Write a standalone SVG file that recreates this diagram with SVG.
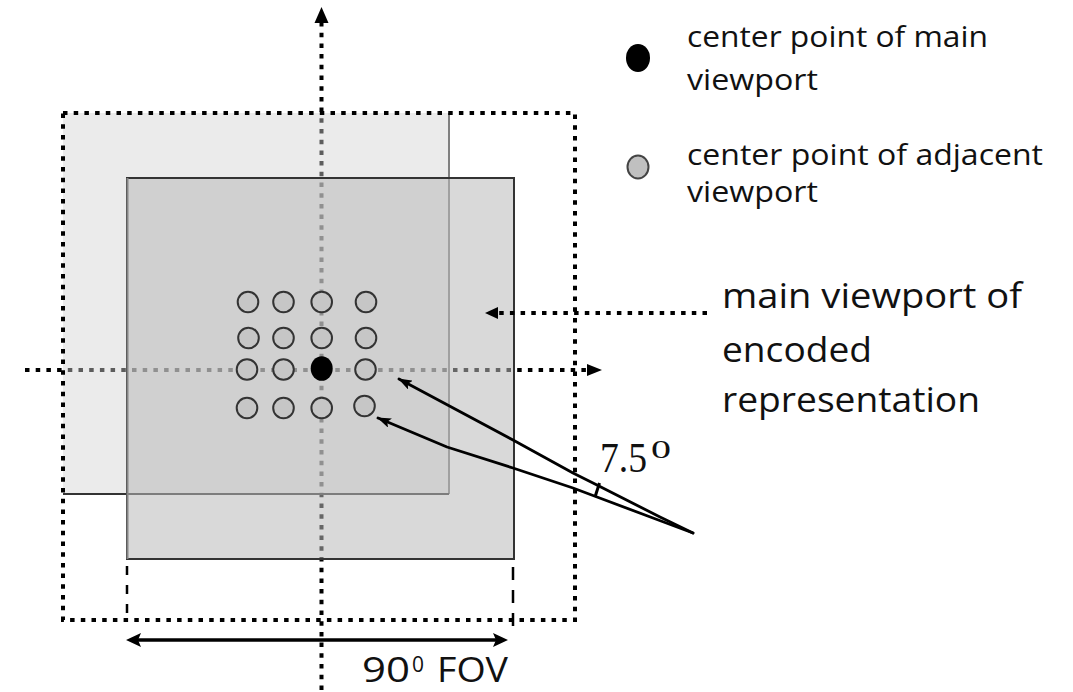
<svg xmlns="http://www.w3.org/2000/svg" width="1073" height="692" viewBox="0 0 1073 692">
<style>
.dot{fill:none;stroke:#000;stroke-width:4;stroke-dasharray:4.5 6.2}
.adj{fill:#c6c6c6;stroke:#333;stroke-width:2}
.txt{font-family:"Open Sans","Liberation Sans",sans-serif;fill:#111}
.srf{font-family:"Liberation Serif",serif;fill:#111}
.ptr{fill:none;stroke:#000;stroke-width:2.8;stroke-linejoin:round;stroke-linecap:round}
.head{fill:#000}
</style>
<defs>
<marker id="ptrhead" viewBox="0 0 14 10" refX="13" refY="5" markerWidth="14" markerHeight="10" markerUnits="userSpaceOnUse" orient="auto">
<path d="M0,0 L14,5 L0,10 L3,5 z" fill="#000"/>
</marker>
</defs>
<rect width="1073" height="692" fill="#fff"/>

<g id="axes">
<line class="dot" x1="321.5" y1="22" x2="321.5" y2="692"/>
<line class="dot" x1="25" y1="370" x2="588" y2="370"/>
<path class="head" d="M321.5,7 L328.5,23 L314.5,23 z"/>
<path class="head" d="M602,370 L587,364 L587,376 z"/>
</g>

<g id="light-viewport">
<rect x="63" y="113" width="386" height="381" fill="#d2d2d2" fill-opacity="0.444"/>
<line x1="449" y1="113" x2="449" y2="494" stroke="#808080" stroke-width="2"/>
<line x1="63" y1="494" x2="449" y2="494" stroke="#333" stroke-width="2"/>
</g>

<g id="main-viewport">
<rect x="127" y="178" width="387" height="381" fill="#bababa" fill-opacity="0.55" stroke="#333" stroke-width="2"/>
<line x1="127.5" y1="178" x2="127.5" y2="559" stroke="#858585" stroke-width="2"/>
</g>

<g id="outer-bound">
<rect class="dot" x="63" y="113" width="512" height="507"/>
</g>

<g id="adjacent-points">
<circle class="adj" cx="248" cy="302" r="10.3"/>
<circle class="adj" cx="283.5" cy="302" r="10.3"/>
<circle class="adj" cx="321.7" cy="302" r="10.3"/>
<circle class="adj" cx="366" cy="302" r="10.3"/>
<circle class="adj" cx="248.5" cy="338" r="10.3"/>
<circle class="adj" cx="283.5" cy="338" r="10.3"/>
<circle class="adj" cx="321.7" cy="338" r="10.3"/>
<circle class="adj" cx="366" cy="338" r="10.3"/>
<circle class="adj" cx="247" cy="369.5" r="10.3"/>
<circle class="adj" cx="283.5" cy="369.5" r="10.3"/>
<circle class="adj" cx="365.5" cy="369.5" r="10.3"/>
<circle class="adj" cx="247" cy="408" r="10.3"/>
<circle class="adj" cx="283.5" cy="408" r="10.3"/>
<circle class="adj" cx="321.7" cy="408" r="10.3"/>
<circle class="adj" cx="364.5" cy="406" r="10.3"/>
</g>

<g id="main-point">
<ellipse cx="321.7" cy="368.5" rx="11" ry="12.3" fill="#000"/>
</g>

<g id="connectors">
<line class="dot" x1="707" y1="313" x2="497" y2="313"/>
<path class="head" d="M485,313 L498,307 L498,319 z"/>
<polyline class="ptr" points="693,533 660,517 593,483 573,473 513,440 399,379" marker-end="url(#ptrhead)"/>
<polyline class="ptr" points="693,533 653,518 597,497 573,488 513,468 447,447 378,418" marker-end="url(#ptrhead)"/>
<line x1="599.5" y1="483" x2="595" y2="497" stroke="#000" stroke-width="3"/>
<line x1="127" y1="566" x2="127" y2="621" stroke="#000" stroke-width="2.5" stroke-dasharray="9 10"/>
<line x1="513" y1="567" x2="513" y2="632" stroke="#000" stroke-width="2.5" stroke-dasharray="13 10"/>
<line x1="138" y1="640" x2="496" y2="640" stroke="#000" stroke-width="3.5"/>
<path class="head" d="M126,640 L141,633 L138,640 L141,647 z"/>
<path class="head" d="M508,640 L493,633 L496,640 L493,647 z"/>
</g>

<g id="legend">
<ellipse cx="638" cy="58" rx="12" ry="14" fill="#000"/>
<text class="txt" x="687" y="47" font-size="29" textLength="301" lengthAdjust="spacingAndGlyphs">center point of main</text>
<text class="txt" x="687" y="90" font-size="29" textLength="131" lengthAdjust="spacingAndGlyphs">viewport</text>
<ellipse cx="638" cy="167" rx="10.5" ry="11.5" fill="#c0c0c0" stroke="#444" stroke-width="2"/>
<text class="txt" x="687" y="165" font-size="29" textLength="356" lengthAdjust="spacingAndGlyphs">center point of adjacent</text>
<text class="txt" x="687" y="202" font-size="29" textLength="131" lengthAdjust="spacingAndGlyphs">viewport</text>
</g>

<g id="viewport-label">
<text class="txt" x="722" y="308" font-size="35" textLength="300" lengthAdjust="spacingAndGlyphs">main viewport of</text>
<text class="txt" x="722" y="362" font-size="35" textLength="150" lengthAdjust="spacingAndGlyphs">encoded</text>
<text class="txt" x="722" y="412" font-size="35" textLength="258" lengthAdjust="spacingAndGlyphs">representation</text>
</g>

<g id="angle-label">
<text class="srf" x="600" y="472" font-size="42" textLength="47" lengthAdjust="spacingAndGlyphs">7.5</text>
<text class="srf" x="651" y="458" font-size="26" textLength="20" lengthAdjust="spacingAndGlyphs">0</text>
</g>

<g id="fov-label">
<text class="txt" x="362" y="682" font-size="35" textLength="48" lengthAdjust="spacingAndGlyphs">90</text>
<text class="txt" x="412" y="672" font-size="21" textLength="12" lengthAdjust="spacingAndGlyphs">0</text>
<text class="txt" x="437" y="682" font-size="35" textLength="71" lengthAdjust="spacingAndGlyphs">FOV</text>
</g>
</svg>
